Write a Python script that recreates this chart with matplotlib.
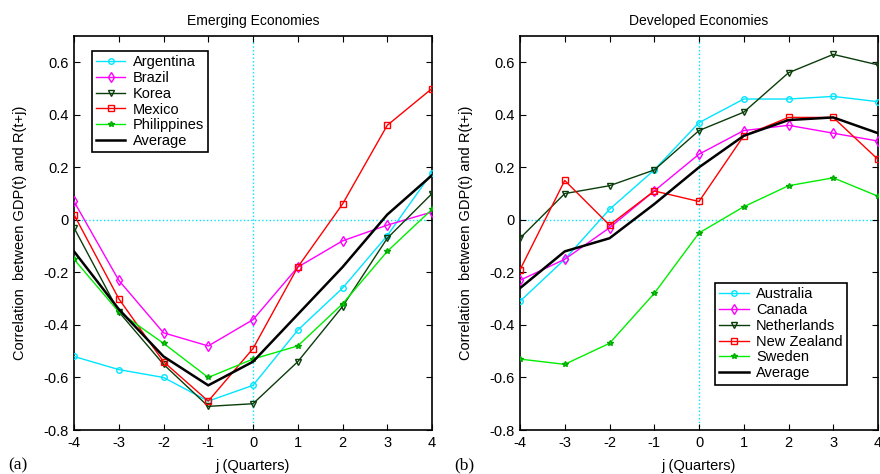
import matplotlib
matplotlib.use("Agg")
import matplotlib.pyplot as plt

plt.rcParams['font.family'] = ['Liberation Sans', 'DejaVu Sans']
plt.rcParams['axes.unicode_minus'] = False

lags = [-4, -3, -2, -1, 0, 1, 2, 3, 4]
xticks = [-4, -3, -2, -1, 0, 1, 2, 3, 4]
yticks = [-0.8, -0.6, -0.4, -0.2, 0, 0.2, 0.4, 0.6]
ytick_labels = ["-0.8", "-0.6", "-0.4", "-0.2", "0", "0.2", "0.4", "0.6"]

emerging_names = ["Argentina", "Brazil", "Korea", "Mexico", "Philippines", "Average"]
argentina = [-0.52, -0.57, -0.60, -0.69, -0.63, -0.42, -0.26, -0.06, 0.18]
brazil = [0.07, -0.23, -0.43, -0.48, -0.38, -0.18, -0.08, -0.02, 0.03]
korea = [-0.03, -0.35, -0.55, -0.71, -0.70, -0.54, -0.33, -0.07, 0.10]
mexico = [0.02, -0.30, -0.54, -0.69, -0.49, -0.18, 0.06, 0.36, 0.50]
philippines = [-0.15, -0.35, -0.47, -0.60, -0.53, -0.48, -0.32, -0.12, 0.04]
emerging_avg = [-0.12, -0.34, -0.52, -0.63, -0.54, -0.36, -0.18, 0.02, 0.17]

developed_names = ["Australia", "Canada", "Netherlands", "New Zealand", "Sweden", "Average"]
australia = [-0.31, -0.15, 0.04, 0.19, 0.37, 0.46, 0.46, 0.47, 0.45]
canada = [-0.23, -0.15, -0.03, 0.11, 0.25, 0.34, 0.36, 0.33, 0.30]
netherlands = [-0.07, 0.10, 0.13, 0.19, 0.34, 0.41, 0.56, 0.63, 0.59]
new_zealand = [-0.19, 0.15, -0.02, 0.11, 0.07, 0.32, 0.39, 0.39, 0.23]
sweden = [-0.53, -0.55, -0.47, -0.28, -0.05, 0.05, 0.13, 0.16, 0.09]
developed_avg = [-0.26, -0.12, -0.07, 0.06, 0.20, 0.32, 0.38, 0.39, 0.33]

styles = [
    dict(color='#00e5ff', marker='o', mfc='none', ms=4, lw=1),
    dict(color='#ff00ff', marker='d', mfc='none', ms=5, lw=1),
    dict(color='#0b3d0b', marker='v', mfc='none', ms=4.5, lw=1),
    dict(color='#ff0000', marker='s', mfc='none', ms=4, lw=1),
    dict(color='#00ee00', marker='*', ms=4, lw=1, mec='#00aa00'),
    dict(color='black', lw=1.8),
]

fig = plt.figure(figsize=(8.8, 4.74), dpi=100)
ax1 = fig.add_axes([74/880, 1-430/474, 358/880, 394/474])
ax2 = fig.add_axes([520/880, 1-430/474, 358/880, 394/474])

def draw(ax, names, series, title, legend_anchor):
    ax.axvline(0, color='#00e5ff', ls=':', lw=1, zorder=1)
    ax.axhline(0, color='#00e5ff', ls=':', lw=1, zorder=1)
    for name, s, st in zip(names, series, styles):
        ax.plot(lags, s, label=name, zorder=3, **st)
    ax.set_xlim(-4, 4)
    ax.set_ylim(-0.8, 0.7)
    ax.set_xticks(xticks)
    ax.set_yticks(yticks)
    ax.set_yticklabels(ytick_labels)
    ax.tick_params(direction='in', top=True, right=True, labelsize=10.5, length=4, pad=4)
    ax.set_title(title, fontsize=10, pad=8)
    ax.set_xlabel("j (Quarters)", fontsize=10.5, labelpad=7)
    ax.set_ylabel("Correlation  between GDP(t) and R(t+j)", fontsize=10.5, labelpad=12)
    for sp in ax.spines.values():
        sp.set_linewidth(1.2)
    leg = ax.legend(loc='upper left', bbox_to_anchor=legend_anchor, fancybox=False,
                    edgecolor='black', framealpha=1, fontsize=10.5, handlelength=2.0,
                    labelspacing=0.12, borderpad=0.3, handletextpad=0.5,
                    borderaxespad=0)
    leg.get_frame().set_linewidth(1.2)

draw(ax1, emerging_names,
     [argentina, brazil, korea, mexico, philippines, emerging_avg],
     "Emerging Economies", (0.05, 0.962))
draw(ax2, developed_names,
     [australia, canada, netherlands, new_zealand, sweden, developed_avg],
     "Developed Economies", (0.545, 0.373))

fig.text(8/880, 1-465/474, "(a)", fontsize=12.5, family='Liberation Serif', va='center')
fig.text(454/880, 1-465/474, "(b)", fontsize=12.5, family='Liberation Serif', va='center')

fig.savefig("out.png", dpi=100)
